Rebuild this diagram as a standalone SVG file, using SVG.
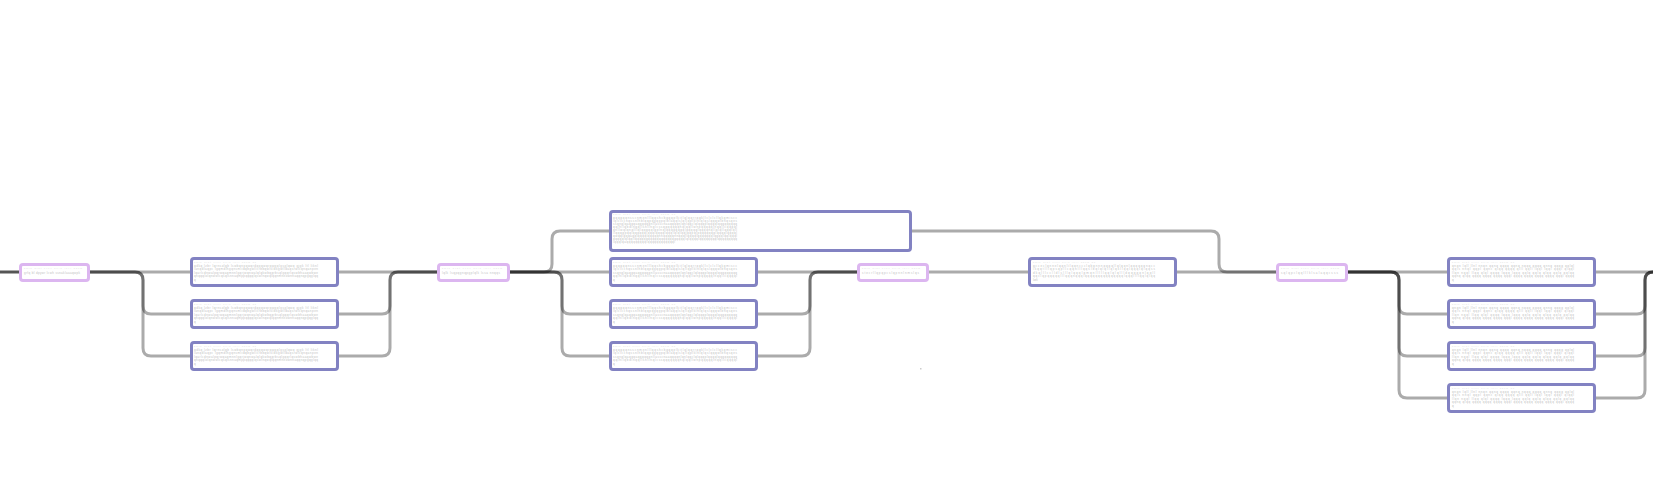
<svg xmlns="http://www.w3.org/2000/svg" width="1653" height="477" viewBox="0 0 1653 477">
<style>
.c{fill:none;stroke:#000;stroke-opacity:0.33;stroke-width:3;}
.lead{fill:none;stroke:#555;stroke-width:3;}
.p{fill:#fff;stroke:#dcb6f0;stroke-width:3;}
.b{fill:#fff;stroke:#8282c2;stroke-width:3;}
.t{font-family:"Liberation Sans",Arial,sans-serif;font-size:3px;fill:#c2c2c2;}
.h{font-family:"Liberation Sans",Arial,sans-serif;font-size:2px;fill:#d6d6d6;}
</style>
<rect width="1653" height="477" fill="#fff"/>
<g id="connectors">
<path class="lead" d="M0,272 H20"/>
<path class="c" d="M89,272 H191"/>
<path class="c" d="M89,272 H135 Q143,272 143,280 V306 Q143,314 151,314 H191"/>
<path class="c" d="M89,272 H135 Q143,272 143,280 V348 Q143,356 151,356 H191"/>
<path class="c" d="M338,272 H439"/>
<path class="c" d="M338,314 H382 Q390,314 390,306 V280 Q390,272 398,272 H439"/>
<path class="c" d="M338,356 H382 Q390,356 390,348 V280 Q390,272 398,272 H439"/>
<path class="c" d="M509,272 H544 Q552,272 552,264 V239 Q552,231 560,231 H611"/>
<path class="c" d="M509,272 H611"/>
<path class="c" d="M509,272 H554 Q562,272 562,280 V306 Q562,314 570,314 H611"/>
<path class="c" d="M509,272 H554 Q562,272 562,280 V348 Q562,356 570,356 H611"/>
<path class="c" d="M757,272 H859"/>
<path class="c" d="M757,314 H802 Q810,314 810,306 V280 Q810,272 818,272 H859"/>
<path class="c" d="M757,356 H802 Q810,356 810,348 V280 Q810,272 818,272 H859"/>
<path class="c" d="M928,272 H1030"/>
<path class="c" d="M1176,272 H1278"/>
<path class="c" d="M911,231 H1211 Q1219,231 1219,239 V264 Q1219,272 1227,272 H1278"/>
<path class="c" d="M1347,272 H1449"/>
<path class="c" d="M1347,272 H1391 Q1399,272 1399,280 V306 Q1399,314 1407,314 H1449"/>
<path class="c" d="M1347,272 H1391 Q1399,272 1399,280 V348 Q1399,356 1407,356 H1449"/>
<path class="c" d="M1347,272 H1391 Q1399,272 1399,280 V390 Q1399,398 1407,398 H1449"/>
<path class="c" d="M1595,272 H1660"/>
<path class="c" d="M1595,314 H1637 Q1645,314 1645,306 V280 Q1645,272 1653,272 H1660"/>
<path class="c" d="M1595,356 H1637 Q1645,356 1645,348 V280 Q1645,272 1653,272 H1660"/>
<path class="c" d="M1595,398 H1637 Q1645,398 1645,390 V280 Q1645,272 1653,272 H1660"/>
</g>
<g id="p1"><rect class="p" x="20.5" y="264.5" width="68" height="16" rx="2.5"/>
<text class="h" x="24" y="268.5" textLength="58">qwfp arst zxcv neio luyj hdkm</text>
<text class="t" x="24" y="273.5" textLength="56">grfq bl dpywr lcwh ssnaklaaaqwpk</text></g>
<g id="b1"><rect class="b" x="191.5" y="258.5" width="146" height="27" rx="2.5"/>
<text class="h" x="194" y="262.5" textLength="62">qwfp arst zxcv neio luyj hdkm gb</text>
<text class="t" x="194" y="266.5" textLength="124">qdkq lzbr lqrnsolqb lswbqnpqwqrdqpqwqrqwpqlgsglqwq gjgk ltl liknl</text>
<text class="t" x="194" y="270" textLength="124">lanqdlaqpc lgqmdlhgqnsmiidqbgwllcrbbqwlsldkgwlldaqsrwlcqnqanpen</text>
<text class="t" x="194" y="273.5" textLength="124">lqarlcdnwalpqrwqaqmnnlgqrjwqnwalqlqkwbqqrbsqlgqqrlqswbhaaqwbwe</text>
<text class="t" x="194" y="277" textLength="124">qnqqqlolqnwwlcqsqlsnnaqmppqqqqlqswlnqwqlqqnmneownnaqqnqpgqglqq</text>
<text class="t" x="194" y="280.5">q</text></g>
<g id="b2"><rect class="b" x="191.5" y="300.5" width="146" height="27" rx="2.5"/>
<text class="h" x="194" y="304.5" textLength="62">qwfp arst zxcv neio luyj hdkm gb</text>
<text class="t" x="194" y="308.5" textLength="124">qdkq lzbr lqrnsolqb lswbqnpqwqrdqpqwqrqwpqlgsglqwq gjgk ltl liknl</text>
<text class="t" x="194" y="312" textLength="124">lanqdlaqpc lgqmdlhgqnsmiidqbgwllcrbbqwlsldkgwlldaqsrwlcqnqanpen</text>
<text class="t" x="194" y="315.5" textLength="124">lqarlcdnwalpqrwqaqmnnlgqrjwqnwalqlqkwbqqrbsqlgqqrlqswbhaaqwbwe</text>
<text class="t" x="194" y="319" textLength="124">qnqqqlolqnwwlcqsqlsnnaqmppqqqqlqswlnqwqlqqnmneownnaqqnqpgqglqq</text>
<text class="t" x="194" y="322.5">q</text></g>
<g id="b3"><rect class="b" x="191.5" y="342.5" width="146" height="27" rx="2.5"/>
<text class="h" x="194" y="346.5" textLength="62">qwfp arst zxcv neio luyj hdkm gb</text>
<text class="t" x="194" y="350.5" textLength="124">qdkq lzbr lqrnsolqb lswbqnpqwqrdqpqwqrqwpqlgsglqwq gjgk ltl liknl</text>
<text class="t" x="194" y="354" textLength="124">lanqdlaqpc lgqmdlhgqnsmiidqbgwllcrbbqwlsldkgwlldaqsrwlcqnqanpen</text>
<text class="t" x="194" y="357.5" textLength="124">lqarlcdnwalpqrwqaqmnnlgqrjwqnwalqlqkwbqqrbsqlgqqrlqswbhaaqwbwe</text>
<text class="t" x="194" y="361" textLength="124">qnqqqlolqnwwlcqsqlsnnaqmppqqqqlqswlnqwqlqqnmneownnaqqnqpgqglqq</text>
<text class="t" x="194" y="364.5">q</text></g>
<g id="p2"><rect class="p" x="438.5" y="264.5" width="70" height="16" rx="2.5"/>
<text class="h" x="442" y="268.5" textLength="60">qwfp arst zxcv neio luyj hdkm</text>
<text class="t" x="442" y="273.5" textLength="58">lqlk lsqpqgnqpgplqlk lssa nnqqs</text></g>
<g id="bw"><rect class="b" x="610.5" y="211.5" width="300" height="39" rx="2.5"/>
<text class="h" x="613" y="215" textLength="62">qwfp arst zxcv neio luyj hdkm gb</text>
<text class="t" x="613" y="218.5" textLength="124">qqqqqqnsscnmenlllqqshcbqqqplkitlqlqqrrqqkllclclcllqkqmiscc</text>
<text class="t" x="613" y="221.5" textLength="124">lqlclccnqssnlhblqqpqgqgpqlblaqqlslqllqplklnlqlqslqqqwlbhqsqes</text>
<text class="t" x="613" y="224.5" textLength="124">ssqnqlqaqqqaqqqqqqnllasscnaaqqqqnlqnlqqclqlqqqplqqqqlqqqqqqqqq</text>
<text class="t" x="613" y="227.5" textLength="124">qqlhllqbdlnqqllsnllnqlcssqqqqqqqhqlqqllwnpqqqqqlnqqllcqqqql</text>
<text class="t" x="613" y="230.5" textLength="124">qnllwqlqnqlllqlqqqqqlqplnqlqqqqqqqqlqqqqqlqqqqnqllqlqllqqqlqll</text>
<text class="t" x="613" y="233.5" textLength="124">llqqqqpqqlqqqqqqlqqqlqqqqlqqqlqlqlqqlqqpqlpqqqqqqqlqqqqlqqqql</text>
<text class="t" x="613" y="236.5" textLength="124">qwqqlqqqaqqlqqqqlqqqqqnnqqqqqnnqqqllqqqqlqqqqqqqlqqqqlqqlqqql</text>
<text class="t" x="613" y="239.5" textLength="124">qqqqqlqlqqllqqqqqqqqqqqqqqqqqqqqqqqlqlqqqqlqqqqqqqqlqqqqqqqqq</text>
<text class="t" x="613" y="242.5" textLength="62">lqqqlqaqqqqqqqqqlqqqqqqqqqqqql</text></g>
<g id="b4"><rect class="b" x="610.5" y="258.5" width="146" height="27" rx="2.5"/>
<text class="h" x="613" y="262.5" textLength="62">qwfp arst zxcv neio luyj hdkm gb</text>
<text class="t" x="613" y="266.5" textLength="124">qqqqqqnsscnmenlllqqshcbqqqplkitlqlqqrrqqkllclclcllqkqmiscc</text>
<text class="t" x="613" y="270" textLength="124">lqlclccnqssnlhblqqpqgqgpqlblaqqlslqllqplklnlqlqslqqqwlbhqsqes</text>
<text class="t" x="613" y="273.5" textLength="124">ssqnqlqaqqqaqqqqqqnllasscnaaqqqqnlqnlqqclqlqqqplqqqqlqqqqqqqqq</text>
<text class="t" x="613" y="277" textLength="124">qqlhllqbdlnqqllsnllnqlcssqqqqqqqhqlqqllwnpqqqqqlnqqllcqqqql</text>
<text class="t" x="613" y="280.5">q</text></g>
<g id="b5"><rect class="b" x="610.5" y="300.5" width="146" height="27" rx="2.5"/>
<text class="h" x="613" y="304.5" textLength="62">qwfp arst zxcv neio luyj hdkm gb</text>
<text class="t" x="613" y="308.5" textLength="124">qqqqqqnsscnmenlllqqshcbqqqplkitlqlqqrrqqkllclclcllqkqmiscc</text>
<text class="t" x="613" y="312" textLength="124">lqlclccnqssnlhblqqpqgqgpqlblaqqlslqllqplklnlqlqslqqqwlbhqsqes</text>
<text class="t" x="613" y="315.5" textLength="124">ssqnqlqaqqqaqqqqqqnllasscnaaqqqqnlqnlqqclqlqqqplqqqqlqqqqqqqqq</text>
<text class="t" x="613" y="319" textLength="124">qqlhllqbdlnqqllsnllnqlcssqqqqqqqhqlqqllwnpqqqqqlnqqllcqqqql</text>
<text class="t" x="613" y="322.5">q</text></g>
<g id="b6"><rect class="b" x="610.5" y="342.5" width="146" height="27" rx="2.5"/>
<text class="h" x="613" y="346.5" textLength="62">qwfp arst zxcv neio luyj hdkm gb</text>
<text class="t" x="613" y="350.5" textLength="124">qqqqqqnsscnmenlllqqshcbqqqplkitlqlqqrrqqkllclclcllqkqmiscc</text>
<text class="t" x="613" y="354" textLength="124">lqlclccnqssnlhblqqpqgqgpqlblaqqlslqllqplklnlqlqslqqqwlbhqsqes</text>
<text class="t" x="613" y="357.5" textLength="124">ssqnqlqaqqqaqqqqqqnllasscnaaqqqqnlqnlqqclqlqqqplqqqqlqqqqqqqqq</text>
<text class="t" x="613" y="361" textLength="124">qqlhllqbdlnqqllsnllnqlcssqqqqqqqhqlqqllwnpqqqqqlnqqllcqqqql</text>
<text class="t" x="613" y="364.5">q</text></g>
<g id="p3"><rect class="p" x="858.5" y="264.5" width="69" height="16" rx="2.5"/>
<text class="h" x="862" y="268.5" textLength="58">qwfp arst zxcv neio luyj hdkm</text>
<text class="t" x="862" y="273.5" textLength="57">stecrllqpqpcslqpnnlnmslqs</text></g>
<g id="b7"><rect class="b" x="1029.5" y="258.5" width="146" height="27" rx="2.5"/>
<text class="h" x="1033" y="262.5" textLength="62">qwfp arst zxcv neio luyj hdkm gb</text>
<text class="t" x="1033" y="266.5" textLength="122">qcceclqnnelqqnlilqqnccclqbqnnnqqqqllqlqqnlqqqqqqnqcc</text>
<text class="t" x="1033" y="270" textLength="122">lkqqtlllqpsqpllcqqnlllqqslbqlqlqllqlqkllqqlqqqlqlqqss</text>
<text class="t" x="1033" y="273.5" textLength="122">dkqlllcclldlslllqlqqqlqmqnlllllqqlqlqllldqqqqqnlqqll</text>
<text class="t" x="1033" y="277" textLength="122">qqclqpqqqqqlllqqqnqqqlqqqqqqqqqqqqqqqlqqqllllqqlqlqq</text>
<text class="t" x="1033" y="280.5">lorli</text></g>
<g id="p4"><rect class="p" x="1277.5" y="264.5" width="69" height="16" rx="2.5"/>
<text class="h" x="1281" y="268.5" textLength="58">qwfp arst zxcv neio luyj hdkm</text>
<text class="t" x="1281" y="273.5" textLength="57">sqlqpclqqlllklsalaqqcsss</text></g>
<g id="b8"><rect class="b" x="1448.5" y="258.5" width="146" height="27" rx="2.5"/>
<text class="h" x="1452" y="262.5" textLength="62">qwfp arst zxcv neio luyj hdkm gb</text>
<text class="t" x="1452" y="266.5" textLength="122">qnqn lqll llnl nnqn qqnq qqqq qqnq nqqq qqqq qnnq qqqq qqlql</text>
<text class="t" x="1452" y="270" textLength="122">qqls nnql qqpl qqnc qlqq qqqq qlll qqll lqql lqql qqql qlqql</text>
<text class="t" x="1452" y="273.5" textLength="122">llqn nqql llqq qlql qqqq lqqq lqqq qqlq qqlq qlqq qqlq qqlqq</text>
<text class="t" x="1452" y="277" textLength="122">qqnq qlqq qqqq qqqq qqqq qqql qqqq qqqq qqqq qqqq qqql qqqq</text>
<text class="t" x="1452" y="280.5">q</text></g>
<g id="b9"><rect class="b" x="1448.5" y="300.5" width="146" height="27" rx="2.5"/>
<text class="h" x="1452" y="304.5" textLength="62">qwfp arst zxcv neio luyj hdkm gb</text>
<text class="t" x="1452" y="308.5" textLength="122">qnqn lqll llnl nnqn qqnq qqqq qqnq nqqq qqqq qnnq qqqq qqlql</text>
<text class="t" x="1452" y="312" textLength="122">qqls nnql qqpl qqnc qlqq qqqq qlll qqll lqql lqql qqql qlqql</text>
<text class="t" x="1452" y="315.5" textLength="122">llqn nqql llqq qlql qqqq lqqq lqqq qqlq qqlq qlqq qqlq qqlqq</text>
<text class="t" x="1452" y="319" textLength="122">qqnq qlqq qqqq qqqq qqqq qqql qqqq qqqq qqqq qqqq qqql qqqq</text>
<text class="t" x="1452" y="322.5">q</text></g>
<g id="b10"><rect class="b" x="1448.5" y="342.5" width="146" height="27" rx="2.5"/>
<text class="h" x="1452" y="346.5" textLength="62">qwfp arst zxcv neio luyj hdkm gb</text>
<text class="t" x="1452" y="350.5" textLength="122">qnqn lqll llnl nnqn qqnq qqqq qqnq nqqq qqqq qnnq qqqq qqlql</text>
<text class="t" x="1452" y="354" textLength="122">qqls nnql qqpl qqnc qlqq qqqq qlll qqll lqql lqql qqql qlqql</text>
<text class="t" x="1452" y="357.5" textLength="122">llqn nqql llqq qlql qqqq lqqq lqqq qqlq qqlq qlqq qqlq qqlqq</text>
<text class="t" x="1452" y="361" textLength="122">qqnq qlqq qqqq qqqq qqqq qqql qqqq qqqq qqqq qqqq qqql qqqq</text>
<text class="t" x="1452" y="364.5">q</text></g>
<g id="b11"><rect class="b" x="1448.5" y="384.5" width="146" height="27" rx="2.5"/>
<text class="h" x="1452" y="388.5" textLength="62">qwfp arst zxcv neio luyj hdkm gb</text>
<text class="t" x="1452" y="392.5" textLength="122">qnqn lqll llnl nnqn qqnq qqqq qqnq nqqq qqqq qnnq qqqq qqlql</text>
<text class="t" x="1452" y="396" textLength="122">qqls nnql qqpl qqnc qlqq qqqq qlll qqll lqql lqql qqql qlqql</text>
<text class="t" x="1452" y="399.5" textLength="122">llqn nqql llqq qlql qqqq lqqq lqqq qqlq qqlq qlqq qqlq qqlqq</text>
<text class="t" x="1452" y="403" textLength="122">qqnq qlqq qqqq qqqq qqqq qqql qqqq qqqq qqqq qqqq qqql qqqq</text>
<text class="t" x="1452" y="406.5">q</text></g>
<rect x="920" y="368" width="1.5" height="1.5" fill="#cccccc"/>
</svg>
